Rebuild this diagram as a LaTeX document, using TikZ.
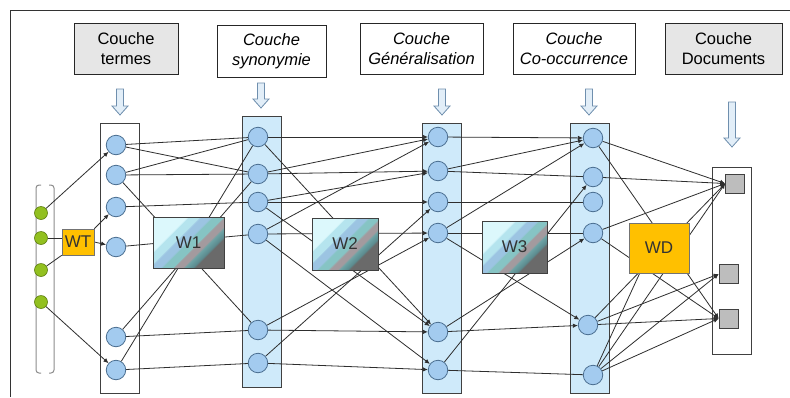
\documentclass[tikz,border=0pt]{standalone}
\usepackage{fontspec}
\setmainfont{Liberation Sans}
\usetikzlibrary{arrows.meta}
\definecolor{nodefill}{HTML}{A3CBEF}
\definecolor{nodeline}{HTML}{4A6E90}
\definecolor{colfill}{HTML}{CFEAFA}
\definecolor{hdrgray}{HTML}{E6E6E6}
\definecolor{wdorange}{HTML}{FFC000}
\definecolor{greendot}{HTML}{92C020}
\definecolor{greenline}{HTML}{5E7F10}
\definecolor{edgecol}{HTML}{2E2E2E}
\definecolor{docgray}{HTML}{BDBDBD}
\definecolor{arrfill}{HTML}{E2EEF8}
\definecolor{arrline}{HTML}{6F8FAE}
\definecolor{wa}{HTML}{DCF8FC}
\definecolor{wb}{HTML}{B5E4EE}
\definecolor{wc}{HTML}{9CC4E2}
\definecolor{wd}{HTML}{86C4C4}
\definecolor{we}{HTML}{A39A9E}
\definecolor{wf}{HTML}{6EA4A6}
\definecolor{wg}{HTML}{5B8A8E}
\definecolor{wh}{HTML}{6A6A6A}
\pgfdeclarehorizontalshading{wstripe}{100bp}{color(0bp)=(wa); color(25bp)=(wa); color(34bp)=(wa); color(35bp)=(wb); color(41bp)=(wb); color(42bp)=(wc); color(48bp)=(wc); color(49bp)=(wd); color(55bp)=(wd); color(56bp)=(we); color(61bp)=(we); color(62bp)=(wf); color(67bp)=(wg); color(68bp)=(wh); color(100bp)=(wh)}
\pgfdeclarelayer{back}
\pgfdeclarelayer{edges}
\pgfsetlayers{back,edges,main}
\tikzset{
  neur/.style={circle, draw=nodeline, fill=nodefill, minimum size=19.5pt, inner sep=0pt, line width=0.8pt},
  inp/.style={circle, draw=greenline, fill=greendot, minimum size=13pt, inner sep=0pt, line width=0.6pt},
  docsq/.style={rectangle, draw=black!75, fill=docgray, minimum size=19pt, inner sep=0pt, line width=0.7pt},
  hdr/.style={rectangle, draw=black!85, line width=0.7pt, align=center, inner sep=0pt, font=\fontsize{16.5}{20}\selectfont},
  wbox/.style={rectangle, draw=black!75, line width=0.7pt, shading=wstripe, shading angle=-45, inner sep=0pt, text=black!80, font=\fontsize{17}{20}\selectfont},
  obox/.style={rectangle, draw=black!55, fill=wdorange, line width=0.7pt, inner sep=0pt, text=black!80, font=\fontsize{17}{20}\selectfont},
  colbox/.style={draw=black!75, line width=0.7pt},
  ln/.style={draw=edgecol, line width=0.8pt},
  arr/.style={ln, -{Latex[length=5pt,width=4.5pt]}},
  blockarrow/.style={draw=arrline, fill=arrfill, line width=0.8pt},
  bracket/.style={draw=black!45, line width=1pt, rounded corners=3pt}
}
\newcommand\hollowdown[3]{%
  \draw[blockarrow] (#1-3.5,#2) -- (#1+3.5,#2) -- (#1+3.5,#3-9) -- (#1+8,#3-9) -- (#1,#3) -- (#1-8,#3-9) -- (#1-3.5,#3-9) -- cycle;}
\begin{document}
\begin{tikzpicture}[x=1pt,y=-1pt]
\useasboundingbox (0,0) rectangle (790,397);
\begin{pgfonlayer}{back}
\fill[white] (0,0) rectangle (790,397);
\draw[black!80, line width=0.8pt] (10,397) -- (10,10) -- (790,10);
\draw[colbox, fill=white] (100,123) rectangle (139,393);
\draw[colbox, fill=colfill] (242,116) rectangle (281,387);
\draw[colbox, fill=colfill] (422,123) rectangle (461,393);
\draw[colbox, fill=colfill] (570,123) rectangle (609,393);
\draw[colbox, fill=white] (712,167) rectangle (751,354);
\draw[bracket] (41,185) -- (36,185) -- (36,373) -- (41,373);
\draw[bracket] (49,185) -- (54,185) -- (54,373) -- (49,373);
\end{pgfonlayer}
% headers
\node[hdr, fill=hdrgray, minimum width=104pt, minimum height=51pt] (h1) at (126,48.5) {Couche\\termes};
\node[hdr, fill=white, minimum width=109pt, minimum height=52pt] (h2) at (271.5,51) {\itshape Couche\\\itshape synonymie};
\node[hdr, fill=white, minimum width=123pt, minimum height=51pt] (h3) at (421.5,48.5) {\itshape Couche\\\itshape Généralisation};
\node[hdr, fill=white, minimum width=122pt, minimum height=51pt] (h4) at (574,48.5) {\itshape Couche\\\itshape Co-occurrence};
\node[hdr, fill=hdrgray, minimum width=117pt, minimum height=51pt] (h5) at (723.5,48.5) {Couche\\Documents};
% block arrows
\hollowdown{120}{89}{115}
\hollowdown{261}{83}{108}
\hollowdown{442}{89}{115}
\hollowdown{589}{89}{115}
\hollowdown{732}{102}{147}
% input nodes
\node[inp] (i1) at (41,213) {};
\node[inp] (i2) at (41,238) {};
\node[inp] (i3) at (41,270) {};
\node[inp] (i4) at (41,302) {};
% termes
\node[neur] (t1) at (116,145) {};
\node[neur] (t2) at (116,175) {};
\node[neur] (t3) at (116,207) {};
\node[neur] (t4) at (116,247) {};
\node[neur] (t5) at (116,337) {};
\node[neur] (t6) at (116,370) {};
% synonymie
\node[neur] (s1) at (258,137) {};
\node[neur] (s2) at (258,174) {};
\node[neur] (s3) at (258,202) {};
\node[neur] (s4) at (258,234) {};
\node[neur] (s5) at (258,330) {};
\node[neur] (s6) at (258,363) {};
% generalisation
\node[neur] (g1) at (438,137) {};
\node[neur] (g2) at (438,171) {};
\node[neur] (g3) at (438,202) {};
\node[neur] (g4) at (438,233) {};
\node[neur] (g5) at (438,332) {};
\node[neur] (g6) at (438,370) {};
% co-occurrence
\node[neur] (c1) at (593,138) {};
\node[neur] (c2) at (593,177) {};
\node[neur] (c3) at (593,202) {};
\node[neur] (c4) at (593,233) {};
\node[neur] (c5) at (588,325) {};
\node[neur] (c6) at (593,375) {};
% documents
\node[docsq] (d1) at (735,183.5) {};
\node[docsq] (d2) at (728.5,274) {};
\node[docsq] (d3) at (728.5,318.5) {};
% weight boxes
\node[obox, minimum width=32pt, minimum height=26pt] (WT) at (78,242) {WT};
\node[wbox, minimum width=71pt, minimum height=51pt] (W1) at (188.5,243) {W1};
\node[wbox, minimum width=66pt, minimum height=52pt] (W2) at (345,244) {W2};
\node[wbox, minimum width=65pt, minimum height=52pt] (W3) at (514.5,247) {W3};
\node[obox, minimum width=60pt, minimum height=50pt] (WD) at (659,248) {WD};
\begin{pgfonlayer}{edges}
% inputs
\draw[arr] (i1) -- (t1);
\draw[ln] (i2) -- (i2 -| WT.west);
\draw[ln] (i3) -- (WT.south west);
\draw[arr] (WT.north east) -- (t3);
\draw[arr] (WT.east) -- (t4);
\draw[arr] (i4) -- (t6);
% termes -> synonymie
\draw[ln] (t1) -- (s1);
\draw[ln] (t1) -- (s2);
\draw[ln] (t2) -- (s1);
\draw[ln] (t2) -- (s2);
\draw[ln] (t2) -- (s5);
\draw[ln] (t3) -- (s3);
\draw[ln] (t4) -- (s4);
\draw[ln] (t5) -- (s5);
\draw[ln] (t5) -- (s2);
\draw[ln] (t6) -- (s6);
\draw[ln] (t6) -- (s1);
% synonymie -> generalisation
\draw[arr] (s1) -- (g1);
\draw[arr] (s1) -- (g5);
\draw[arr] (s2) -- (g1);
\draw[arr] (s2) -- (g2);
\draw[arr] (s3) -- (g2);
\draw[arr] (s3) -- (g3);
\draw[arr] (s3) -- (g5);
\draw[arr] (s4) -- (g1);
\draw[arr] (s4) -- (g4);
\draw[arr] (s4) -- (g6);
\draw[arr] (s5) -- (g4);
\draw[arr] (s5) -- (g5);
\draw[arr] (s6) -- (g3);
\draw[arr] (s6) -- (g6);
% generalisation -> co-occurrence
\draw[arr] (g1) -- (c1);
\draw[arr] (g2) -- (c1);
\draw[ln] (g2) -- (c2);
\draw[ln] (g3) -- (c3);
\draw[arr] (g4) -- (c1);
\draw[ln] (g4) -- (c4);
\draw[arr] (g4) -- (c5);
\draw[arr] (g5) -- (c4);
\draw[arr] (g5) -- (c5);
\draw[arr] (g6) -- (c2);
\draw[ln] (g6) -- (c6);
% co-occurrence -> documents
\draw[arr] (c1) -- (d1.west);
\draw[arr] (c1) -- (d3.west);
\draw[arr] (c2) -- (d1.west);
\draw[arr] (c4) -- (d1.west);
\draw[arr] (c4) -- (d3.west);
\draw[arr] (c5) -- (d1.west);
\draw[arr] (c5) -- (d2.west);
\draw[arr] (c5) -- (d3.west);
\draw[arr] (c6) -- (d1.west);
\draw[arr] (c6) -- (d2.west);
\draw[arr] (c6) -- (d3.west);
\draw[ln] (c6) -- ([xshift=11pt]WD.south west);
\end{pgfonlayer}
\end{tikzpicture}
\end{document}
